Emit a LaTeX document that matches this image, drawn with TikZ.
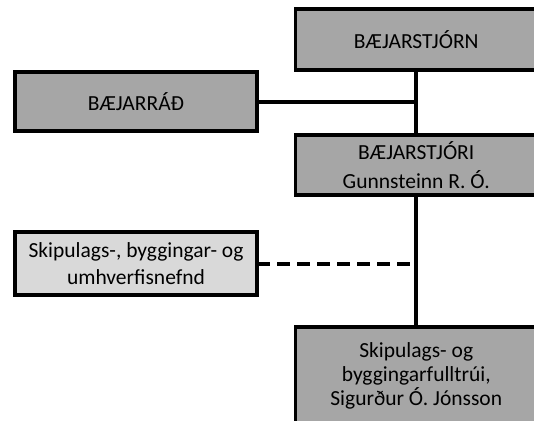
\documentclass[tikz,border=0pt]{standalone}
\usepackage{fontspec}
\setmainfont{Carlito}
\usetikzlibrary{positioning}
\usepackage{xcolor}
\definecolor{OrgGray}{RGB}{166,166,166}
\definecolor{OrgLight}{RGB}{217,217,217}

\begin{document}
\begin{tikzpicture}[x=1pt,y=-1pt,box/.style={rectangle,draw=black,line width=3.5pt,fill=OrgGray,outer sep=0pt,inner sep=0pt,align=center,minimum width=241.5pt,font=\fontsize{21.5}{24}\selectfont},lightbox/.style={box,fill=OrgLight},link/.style={draw=black,line width=4pt},dashlink/.style={link,dash pattern=on 13pt off 7pt}]
\useasboundingbox(0,0)rectangle(534,420);
\node[box,minimum height=61pt](stjorn)at(416.25,39.5){BÆJARSTJÓRN};
\node[box,minimum height=60pt,below=65pt of stjorn](stjori){BÆJARSTJÓRI\\[5pt]Gunnsteinn R. Ó.};
\node[box,minimum height=97pt,below=132pt of stjori](fulltrui){Skipulags- og\\byggingarfulltrúi,\\Sigurður Ó. Jónsson};
\node[box,minimum width=242pt,minimum height=59pt](rad)at(136,101.5){BÆJARRÁÐ};
\node[lightbox,minimum width=242pt,minimum height=63pt](nefnd)at(136,263.5){Skipulags-, byggingar- og\\[3pt]umhverfisnefnd};
\foreach \x/\y in {stjorn/stjori,stjori/fulltrui}{\draw[link](\x)--(\y);}
\draw[link](rad.east)--(rad.east-|stjorn.south);
\draw[dashlink](nefnd.east)--(nefnd.east-|stjorn.south);
\end{tikzpicture}
\end{document}
